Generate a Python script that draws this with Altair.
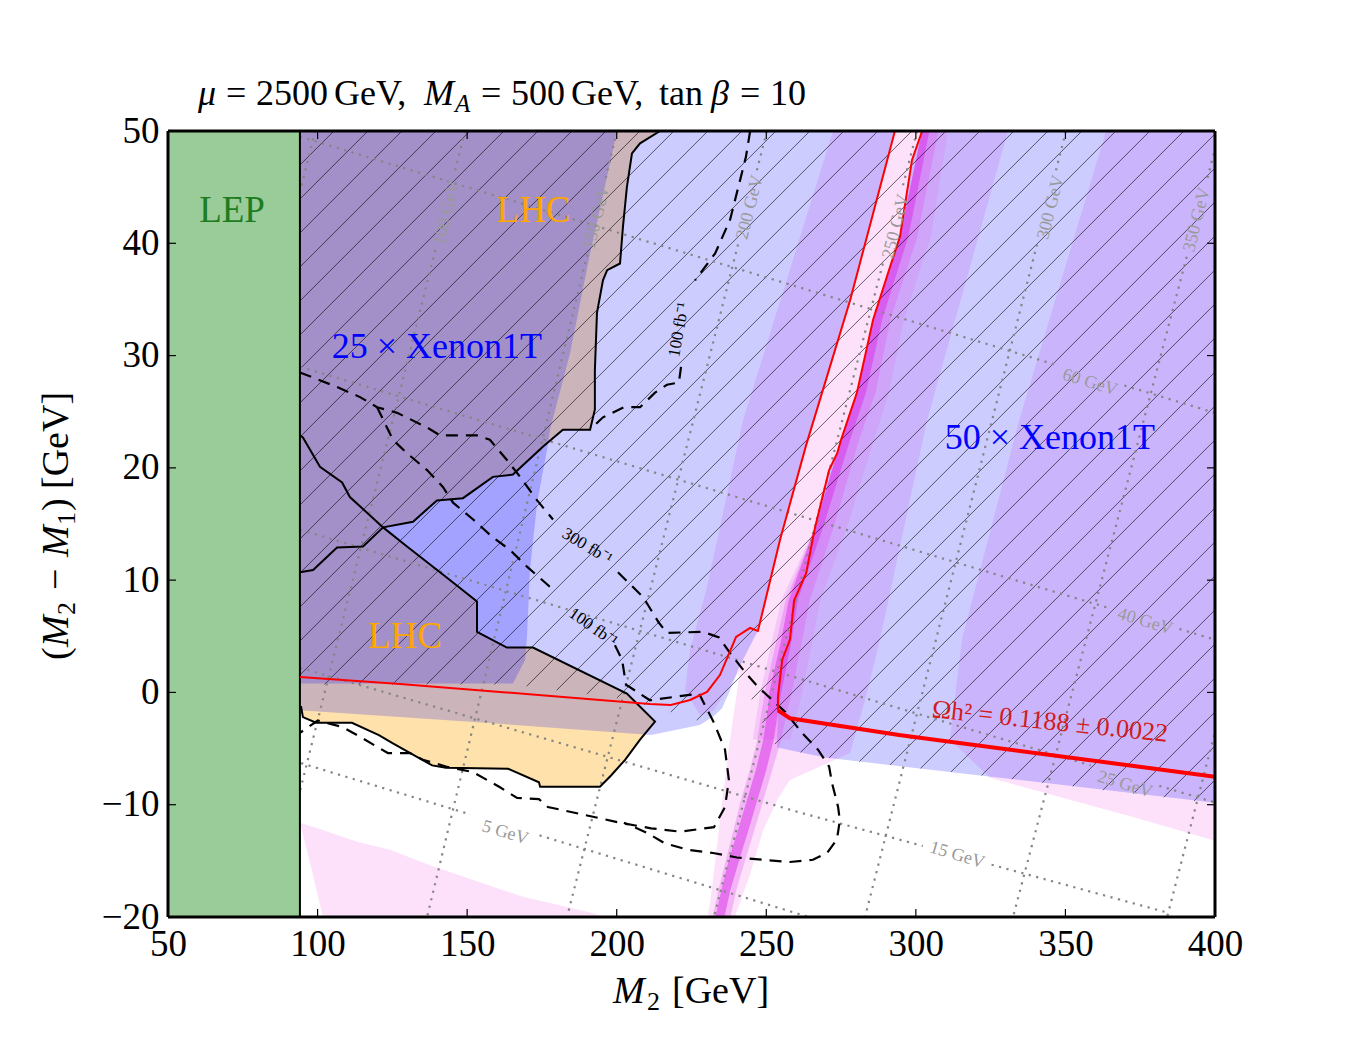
import altair as alt
import numpy as np
import pandas as pd

# ---------------- frame ----------------
W, H = 1047, 786
X_DOM = [50, 400]
Y_DOM = [-20, 50]
SERIF = "Liberation Serif"
X_TICKS = [50, 100, 150, 200, 250, 300, 350, 400]
Y_TICKS = [-20, -10, 0, 10, 20, 30, 40, 50]
LEP_LIMIT = 94.1

# ---------------- regions, (M2, M2 - M1) in GeV ----------------
PINK_BLOB = [(94.1, -11.6), (101.8, -12.25), (113.2, -13.3), (124.2, -14.0), (137.6, -15.4),
             (152.0, -16.7), (168.7, -18.2), (191.1, -19.6), (196.1, -20.0), (101.8, -20.0),
             (97.5, -15.2)]
PINK_BAND_1 = [(272.3, 50), (242.2, 24.2), (230.2, 9.4), (224.5, 3.8), (222.8, 0.2), (227.8, -2.0),
               (232.5, -1.6), (237.9, 0.7), (241.2, 1.9), (237.5, -4.9), (234.5, -11.4),
               (232.2, -16.7), (230.5, -20), (239.5, -20), (244.6, -16.2), (248.9, -12.3),
               (253.6, -9.6), (257.9, -7.8), (278.0, -5.4), (283.0, -0.7), (288.0, 4.7),
               (303.7, 24.2), (330.8, 50)]
PINK_BAND_2 = [(363.6, 50), (334.5, 24.2), (315.4, 4.7), (311.4, -4.2), (324.8, -7.6),
               (372.6, -11.1), (400, -13.2), (400, 50)]

# LHC contours (solid black)
LHC_UPPER = [(214.5, 50), (207.8, 48.9), (205.1, 48.0), (203.4, 45.0), (202.1, 41.5), (201.1, 38.2),
             (196.8, 37.6), (195.4, 36.7), (193.4, 33.8), (192.7, 28.7), (192.7, 25.2), (191.1, 23.4),
             (182.0, 23.4), (175.4, 21.9), (165.3, 19.4), (158.6, 19.2), (148.6, 17.3), (139.9, 17.1),
             (131.9, 15.2), (121.9, 14.7), (115.2, 13.0), (106.5, 12.9), (98.5, 10.9), (94.1, 10.7)]
LHC_LOWER = [(94.1, 22.9), (95.1, 22.7), (100.8, 20.1), (108.2, 18.7), (110.8, 17.4), (121.9, 14.7),
             (129.9, 13.0), (141.9, 10.5), (153.3, 8.1), (153.3, 5.4), (163.3, 4.0), (172.0, 4.0),
             (203.4, -0.1), (212.8, -2.6), (207.8, -4.2), (202.8, -6.0), (198.1, -7.4), (194.4, -8.4),
             (174.4, -8.4), (174.0, -8.0), (163.7, -6.8), (142.9, -6.7), (138.3, -6.5), (124.9, -4.5),
             (120.5, -3.8), (111.5, -2.7), (99.5, -2.7), (95.1, -2.2), (94.5, -1.3), (94.1, -1.3)]

XENON50_LEFT = [(94.1, 50), (293.0, 50), (278.0, 34.9), (263.3, 22.0), (254.6, 13.6), (247.2, 5.5),
                (243.9, 3.8), (240.5, 2.0), (237.9, 0.2), (235.2, -1.4), (232.5, -2.1), (227.8, -2.9),
                (211.5, -3.8), (161.0, -2.8), (95.1, -1.6), (94.1, -1.6)]
XENON50_RIGHT = [(302.1, 50), (298.7, 47.4), (294.7, 40.6), (291.0, 37.6), (285.7, 33.2), (280.3, 26.7),
                 (275.0, 22.5), (273.7, 21.3), (271.0, 19.8), (266.3, 14.7), (263.3, 10.6), (259.3, 8.2),
                 (257.9, 4.7), (255.3, 2.9), (253.9, -0.4), (253.9, -1.6), (253.6, -4.9), (269.6, -5.8),
                 (325.1, -7.5), (399.3, -9.8), (400, -9.9), (400, 50)]
XENON25 = [(94.1, 50), (200.1, 50), (191.1, 39.1), (184.4, 30.2), (177.7, 23.4), (176.7, 21.6),
           (173.4, 16.9), (171.0, 10.9), (170.0, 4.9), (169.4, 2.9), (165.3, 0.8), (94.1, 0.8)]

# relic density band edges (red)
RELIC_LEFT = [(94.1, 1.38), (127.6, 0.75), (161.0, 0.04), (194.4, -0.67), (211.1, -1.02), (218.1, -1.11),
              (224.5, -0.67), (230.2, 0.04), (234.5, 1.55), (239.9, 4.94), (244.6, 5.74), (247.2, 5.47),
              (254.6, 13.6), (263.3, 22.0), (278.0, 34.9), (293.0, 50)]
RELIC_STEP = [(302.1, 50), (298.7, 47.4), (294.7, 40.6), (291.0, 37.6), (285.7, 33.2), (280.3, 26.7),
              (275.0, 22.5), (273.7, 21.3), (271.0, 19.8), (266.3, 14.7), (263.3, 10.6), (259.3, 8.2),
              (257.9, 4.7), (255.3, 2.9), (253.9, -0.4), (253.9, -1.6)]
RELIC_RIGHT = [(253.9, -1.6), (257.9, -2.3), (294.4, -3.8), (400, -7.5)]

# resonance strip: rows of (M2-M1, left edge, right edge)
STRIP_Y = [50, 40.6, 33.2, 26.7, 22.5, 14.7, 8.2, 4.7, 0, -1.6, -4.2, -6.9, -9.6, -12.3, -14.9, -17.6, -20]
CORE_L = [302.1, 294.7, 285.7, 280.3, 275.0, 266.3, 257.5, 255.0, 251.0, 250.5, 249.0, 246.5, 243.5, 240.5, 237.5, 235.0, 233.0]
CORE_R = [304.5, 297.5, 288.7, 283.3, 278.0, 269.0, 260.5, 258.5, 255.0, 254.0, 252.5, 250.0, 247.0, 244.0, 241.0, 238.0, 236.0]
MID_L = [302.1, 294.7, 285.7, 280.3, 275.0, 266.3, 256.5, 253.5, 249.5, 248.5, 247.0, 244.5, 241.5, 239.0, 236.5, 234.0, 232.0]
MID_R = [307.5, 300.5, 291.5, 286.5, 281.0, 272.5, 264.5, 262.0, 258.5, 257.0, 255.0, 252.0, 249.0, 246.0, 243.0, 240.0, 238.0]
HALO_Y = [50, 40.6, 33.2, 26.7, 22.5, 14.7, 8.2, 4.7, 0, -1.6, -4.2]
HALO_L = [302.1, 294.7, 285.7, 280.3, 275.0, 266.3, 255.0, 252.0, 248.0, 247.0, 245.5]
HALO_R = [310.7, 305.0, 296.0, 291.0, 286.0, 277.0, 268.0, 265.5, 262.0, 260.5, 258.0]

# lower edge of the hatched region
HATCH_EDGE_X = [94.1, 165, 200, 215, 228, 233, 238, 241.2, 244, 250, 253.6, 269.6, 325.1, 400]
HATCH_EDGE_Y = [0.7, 0.7, -0.5, -1.5, -2.6, -2.0, 0.3, 1.9, 0.0, -3.5, -4.9, -5.8, -7.5, -9.9]
HATCH_STEP_PX = 34

# projected LHC reach (dashed)
REACH_100_UPPER_A = [(244.6, 50), (243.2, 47.7), (237.9, 42.1), (232.9, 39.1), (226.2, 36.7)]
REACH_100_UPPER_B = [(221.5, 29.0), (220.8, 27.6), (216.8, 27.4), (212.8, 26.7), (207.8, 25.4),
                     (202.4, 25.4), (195.4, 24.5), (191.1, 23.4)]
REACH_300_A = [(94.1, 28.5), (106.5, 27.2), (114.2, 26.3), (119.9, 25.4), (126.6, 24.9), (136.6, 23.6),
               (140.9, 22.9), (153.3, 22.9), (157.6, 22.5), (163.3, 20.7), (167.7, 19.2), (173.4, 17.1),
               (178.7, 15.4)]
REACH_300_B = [(200.4, 10.7), (208.8, 8.5), (214.1, 6.2), (216.8, 5.3), (228.8, 5.4), (234.2, 4.9),
               (237.9, 3.5), (243.2, 1.7), (247.2, 0.5), (256.6, -1.8), (261.9, -3.6), (267.3, -5.1),
               (271.0, -6.6), (272.0, -8.1), (274.0, -10.2), (274.6, -11.4), (273.6, -13.1), (270.3, -14.3),
               (265.6, -14.9), (257.9, -15.1), (248.9, -14.9), (240.2, -14.7), (232.2, -14.3), (223.5, -14.0),
               (215.8, -13.4), (210.1, -12.5), (202.4, -11.6)]
REACH_100_A = [(119.9, 25.4), (125.2, 22.5), (129.9, 21.3), (136.6, 19.8), (141.9, 18.3), (145.3, 16.9),
               (152.0, 15.4), (158.6, 13.8), (164.3, 12.7), (170.0, 11.2), (177.7, 9.4)]
REACH_100_B = [(199.4, 4.2), (201.8, 2.9), (203.1, 0.7), (211.1, -0.7), (227.5, -0.1), (232.5, -2.7),
               (236.2, -5.1), (237.5, -7.8), (236.2, -10.2), (232.5, -12.0), (221.2, -12.4), (211.5, -12.1),
               (201.1, -11.6), (189.1, -10.9), (177.0, -10.2), (174.0, -9.5), (166.7, -9.4), (160.7, -8.4),
               (152.0, -7.1), (142.9, -6.6), (135.2, -6.0), (130.9, -5.4), (123.5, -5.4), (114.5, -4.0),
               (108.5, -3.1), (100.1, -2.5), (94.1, -3.6)]

# mass contours (dotted): LSP mass lines, top / bottom crossing in M2
MASS_VALUES = [50, 100, 150, 200, 250, 300, 350, 400]
MASS_TOP_X = [99.2, 149.3, 200.1, 250.2, 300.4, 350.2, 401.6, 452.0]
MASS_BOTTOM_X = [33.5, 83.6, 136.6, 183.4, 232.5, 283.0, 332.5, 384.0]
MASS_LABELS = {100: (143.3, 42.7), 150: (193.4, 42.3), 200: (244.6, 43.2), 250: (293.4, 41.5),
               300: (345.2, 43.2), 350: (394.0, 42.1)}
# mass splitting contours (dotted)
SPLIT_LINES = {60: [(94.1, 49.5), (400, 24.9)], 40: [(94.1, 29.0), (400, 4.7)],
               25: [(94.1, 14.5), (400, -9.8)], 15: [(94.1, 2.2), (261.3, -10.7), (384.0, -19.6)],
               5: [(94.5, -6.3), (259.3, -19.6), (264.0, -20.0)]}
SPLIT_LABELS = {60: (358.2, 27.6), 40: (376.6, 6.3), 25: (369.9, -8.2), 15: (313.8, -14.5), 5: (162.7, -12.5)}

# title and axis-title pieces: (text, left px, baseline px, size, style)
TITLE_PARTS = [("μ", 198, 105, 36, "italic"), ("=", 226, 105, 36, "normal"), ("2500", 256, 105, 36, "normal"),
               ("GeV,", 334, 105, 36, "normal"), ("M", 424, 105, 36, "italic"), ("A", 455, 112, 25, "italic"),
               ("=", 481, 105, 36, "normal"), ("500", 511, 105, 36, "normal"), ("GeV,", 571, 105, 36, "normal"),
               ("tan", 659, 105, 36, "normal"), ("β", 711, 105, 36, "italic"), ("=", 740, 105, 36, "normal"),
               ("10", 770, 105, 36, "normal")]
XTITLE_PARTS = [("M", 613, 1003, 38, "italic"), ("2", 647, 1010, 26, "normal"), ("[GeV]", 672, 1003, 38, "normal")]
# rotated: (text, baseline x px, start y px (bottom), size, style)
YTITLE_PARTS = [("(", 68, 660, 38, "normal"), ("M", 68, 647, 38, "italic"), ("2", 75, 615, 26, "normal"),
                ("−", 68, 590, 38, "normal"), ("M", 68, 557, 38, "italic"), ("1", 75, 525, 26, "normal"),
                (")", 68, 511, 38, "normal"), ("[GeV]", 68, 489, 38, "normal")]

# ---------------- scales / encodings ----------------
xs = alt.Scale(domain=X_DOM, nice=False, zero=False)
ys = alt.Scale(domain=Y_DOM, nice=False, zero=False)
X_AXIS = alt.Axis(values=X_TICKS, format="d", title="", ticks=False, domain=False, grid=False,
                  labelPadding=9, labelFlush=False)
Y_AXIS = alt.Axis(values=Y_TICKS, format="d", title="", ticks=False, domain=False,
                  grid=False, labelPadding=9, labelFlush=False)


def ex(f="x"):
    return alt.X(f"{f}:Q", scale=xs, axis=X_AXIS)


def ey(f="y"):
    return alt.Y(f"{f}:Q", scale=ys, axis=Y_AXIS)


def table(polys):
    rows = []
    for g, pts in enumerate(polys):
        for i, (x, y) in enumerate(pts):
            rows.append({"x": x, "y": y, "i": i, "g": g})
    return pd.DataFrame(rows)


def polygons(polys, fill, opacity=1.0):
    return alt.Chart(table(polys)).mark_line(
        fill=fill, fillOpacity=opacity, strokeWidth=0, interpolate="linear-closed", clip=True
    ).encode(x=ex(), y=ey(), order="i:Q", detail="g:N")


def paths(polys, color, width, dash=None):
    kw = dict(color=color, strokeWidth=width, clip=True)
    if dash:
        kw["strokeDash"] = dash
    return alt.Chart(table(polys)).mark_line(**kw).encode(x=ex(), y=ey(), order="i:Q", detail="g:N")


def strip(ys_, xl, xr, color, opacity):
    df = pd.DataFrame({"y": ys_, "xl": xl, "xr": xr})
    return alt.Chart(df).mark_area(orient="horizontal", color=color, opacity=opacity, clip=True).encode(
        y=ey(), x=ex("xl"), x2="xr:Q")


def texts(rows, color, size, style="normal"):
    df = pd.DataFrame(rows, columns=["x", "y", "t", "a"])
    return alt.Chart(df).mark_text(color=color, font=SERIF, fontSize=size, fontStyle=style,
                                   align="center", baseline="middle").encode(
        x=ex(), y=ey(), text="t:N", angle=alt.Angle("a:Q", scale=None))


def pixel_text(s, px, py, size, style="normal", angle=0):
    # px, py are page pixels; the plot origin sits at (168, 131)
    return alt.Chart(pd.DataFrame({"t": [s]})).mark_text(
        font=SERIF, fontSize=size, fontStyle=style, align="left", baseline="alphabetic",
        color="black", angle=angle
    ).encode(x=alt.value(px - 168), y=alt.value(py - 131), text="t:N")


def rules(df, color, width, clip=True):
    return alt.Chart(df).mark_rule(color=color, strokeWidth=width, clip=clip).encode(
        x=ex(), y=ey(), x2="x2:Q", y2="y2:Q")


# ---------------- derived geometry ----------------
px_per_x = W / (X_DOM[1] - X_DOM[0])
px_per_y = H / (Y_DOM[1] - Y_DOM[0])
hatch_slope = px_per_x / px_per_y          # 45 degree lines on screen
hatch_step = HATCH_STEP_PX / px_per_x

hatch_rows = []
grid_x = np.linspace(LEP_LIMIT, X_DOM[1], 4000)
edge = np.interp(grid_x, HATCH_EDGE_X, HATCH_EDGE_Y)
c = LEP_LIMIT - Y_DOM[1] / hatch_slope
while c < X_DOM[1] + 12 / hatch_slope:
    yy = hatch_slope * (grid_x - c)
    ok = (yy <= Y_DOM[1]) & (yy >= edge)
    if ok.any():
        xa, xb = grid_x[ok].min(), grid_x[ok].max()
        hatch_rows.append({"x": xa, "y": hatch_slope * (xa - c), "x2": xb, "y2": hatch_slope * (xb - c)})
    c += hatch_step
hatch_df = pd.DataFrame(hatch_rows)

# dotted mass lines with gaps where the labels sit
mass_segments = []
for m, xt, xb in zip(MASS_VALUES, MASS_TOP_X, MASS_BOTTOM_X):
    def xat(y, xt=xt, xb=xb):
        return xb + (xt - xb) * (y - Y_DOM[0]) / (Y_DOM[1] - Y_DOM[0])
    if m in MASS_LABELS:
        yl = MASS_LABELS[m][1]
        mass_segments.append([(xt, 50), (xat(yl + 3.3), yl + 3.3)])
        mass_segments.append([(xat(yl - 3.3), yl - 3.3), (xb, -20)])
    else:
        mass_segments.append([(xt, 50), (xb, -20)])

split_segments = []
for d, pts in SPLIT_LINES.items():
    px_, py_ = zip(*pts)
    xl = SPLIT_LABELS[d][0]
    lo, hi = xl - 11.5, xl + 11.5
    left = [p for p in pts if p[0] < lo] + [(lo, float(np.interp(lo, px_, py_)))]
    right = [(hi, float(np.interp(hi, px_, py_)))] + [p for p in pts if p[0] > hi]
    split_segments += [left, right]

tick_len_x = 8 / px_per_x
tick_len_y = 8 / px_per_y
tick_rows = []
for v in X_TICKS:
    tick_rows.append({"x": v, "y": Y_DOM[0], "x2": v, "y2": Y_DOM[0] + tick_len_y})
    tick_rows.append({"x": v, "y": Y_DOM[1], "x2": v, "y2": Y_DOM[1] - tick_len_y})
for v in Y_TICKS:
    tick_rows.append({"x": X_DOM[0], "y": v, "x2": X_DOM[0] + tick_len_x, "y2": v})
    tick_rows.append({"x": X_DOM[1], "y": v, "x2": X_DOM[1] - tick_len_x, "y2": v})
ticks_df = pd.DataFrame(tick_rows)

frame_df = pd.DataFrame([
    {"x": X_DOM[0], "y": Y_DOM[0], "x2": X_DOM[1], "y2": Y_DOM[0]},
    {"x": X_DOM[0], "y": Y_DOM[1], "x2": X_DOM[1], "y2": Y_DOM[1]},
    {"x": X_DOM[0], "y": Y_DOM[0], "x2": X_DOM[0], "y2": Y_DOM[1]},
    {"x": X_DOM[1], "y": Y_DOM[0], "x2": X_DOM[1], "y2": Y_DOM[1]},
])
lep_df = pd.DataFrame([{"x": X_DOM[0], "x2": LEP_LIMIT, "y": Y_DOM[0], "y2": Y_DOM[1]}])

# orange LHC fill: region above the upper contour joined with the inside of the lower one
LHC_FILL = ([(94.1, 50)] + LHC_UPPER[:LHC_UPPER.index((121.9, 14.7)) + 1]
            + LHC_LOWER[LHC_LOWER.index((121.9, 14.7)) + 1:])

layers = [
    polygons([PINK_BLOB, PINK_BAND_1, PINK_BAND_2], "#fde1fb"),
    polygons([LHC_FILL], "#ffa500", 0.33),
    polygons([XENON50_LEFT, XENON50_RIGHT], "#0000ff", 0.2),
    polygons([XENON25], "#0000ff", 0.2),
    strip(HALO_Y, HALO_L, HALO_R, "#e070f0", 0.22),
    strip(STRIP_Y, MID_L, MID_R, "#e050f0", 0.3),
    strip(STRIP_Y, CORE_L, CORE_R, "#d830e8", 0.5),
    rules(hatch_df, "#000000", 0.6),
    paths(mass_segments, "#858585", 2.2, dash=[2.2, 5.5]),
    paths(split_segments, "#858585", 2.2, dash=[2.2, 5.5]),
    alt.Chart(lep_df).mark_rect(color="#99cc99").encode(x=ex(), x2="x2:Q", y=ey(), y2="y2:Q"),
    rules(pd.DataFrame([{"x": LEP_LIMIT, "y": Y_DOM[0], "x2": LEP_LIMIT, "y2": Y_DOM[1]}]), "black", 2),
    paths([LHC_UPPER, LHC_LOWER], "black", 2),
    paths([REACH_100_UPPER_A, REACH_100_UPPER_B, REACH_300_A, REACH_300_B, REACH_100_A, REACH_100_B],
          "black", 2.2, dash=[12, 8]),
    paths([RELIC_LEFT, RELIC_STEP], "#ff0000", 2),
    paths([RELIC_RIGHT], "#ff0000", 4),
    texts([(x, y, f"{m} GeV", 284) for m, (x, y) in MASS_LABELS.items()] +
          [(x, y, f"{d} GeV", 16.7) for d, (x, y) in SPLIT_LABELS.items()], "#9a9a9a", 18),
    texts([(220.8, 32.3, "100 fb⁻¹", 280), (190.1, 13.0, "300 fb⁻¹", 31), (192.1, 5.8, "100 fb⁻¹", 35)],
          "black", 17),
    texts([(71.4, 42.9, "LEP", 0)], "#1e7d1e", 37),
    texts([(172.2, 42.9, "LHC", 0), (129.2, 4.9, "LHC", 0)], "#ffa500", 37),
    texts([(139.9, 30.8, "25 × Xenon1T", 0), (344.8, 22.7, "50 × Xenon1T", 0)], "#0000ff", 36),
    texts([(344.8, -2.6, "Ωh² = 0.1188 ± 0.0022", 6.0)], "#d01c1c", 26),
    rules(ticks_df, "black", 1.2, clip=False),
    rules(frame_df, "black", 3, clip=False),
]
layers += [pixel_text(t, px, py, s, st) for t, px, py, s, st in TITLE_PARTS]
layers += [pixel_text(t, px, py, s, st) for t, px, py, s, st in XTITLE_PARTS]
layers += [pixel_text(t, px, py, s, st, angle=270) for t, px, py, s, st in YTITLE_PARTS]

chart = alt.layer(*layers).properties(
    width=W, height=H,
    padding={"left": 168, "top": 131, "right": 135, "bottom": 133},
    autosize=alt.AutoSizeParams(type="none"),
    background="white",
).configure_view(strokeWidth=0).configure_axis(
    labelFont=SERIF, labelFontSize=37, labelColor="black",
)

chart.save("out.html", embed_options={"renderer": "svg", "actions": False})
